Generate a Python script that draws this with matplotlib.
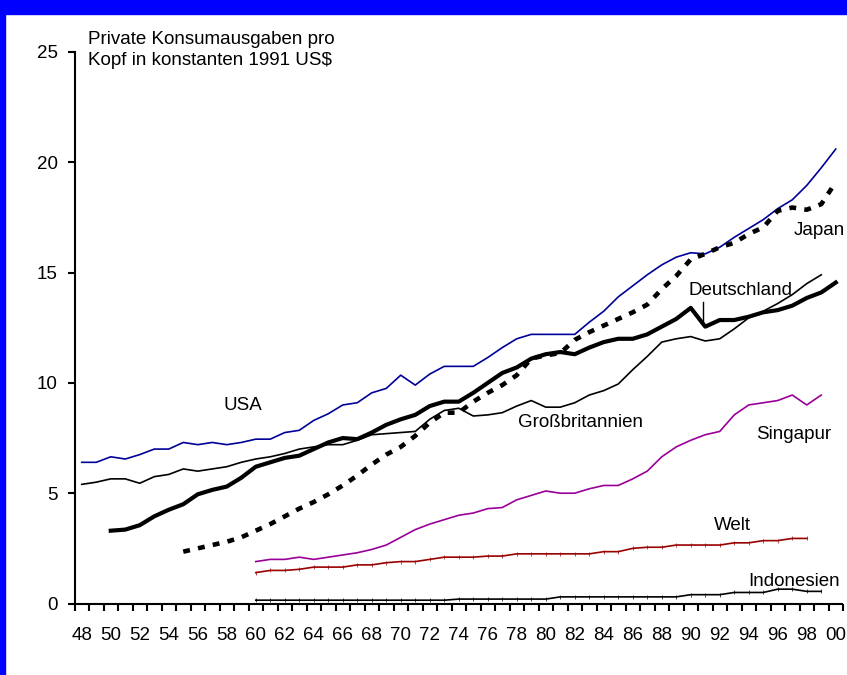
import matplotlib
matplotlib.use("Agg")
import matplotlib.pyplot as plt
from matplotlib.patches import Rectangle
from matplotlib.ticker import FixedLocator, NullFormatter

plt.rcParams['font.family'] = ['Liberation Sans', 'DejaVu Sans']

# Private consumption per capita, constant 1991 US$ (thousands)
years_usa = list(range(1948, 2001))
usa = [6.4, 6.4, 6.65, 6.55, 6.75, 7.0, 7.0, 7.3, 7.2, 7.3, 7.2, 7.3, 7.45, 7.45,
       7.75, 7.85, 8.3, 8.6, 9.0, 9.1, 9.55, 9.75, 10.35, 9.9, 10.4, 10.75, 10.75,
       10.75, 11.15, 11.6, 12.0, 12.2, 12.2, 12.2, 12.2, 12.75, 13.25, 13.9, 14.4,
       14.9, 15.35, 15.7, 15.9, 15.85, 16.15, 16.6, 17.0, 17.4, 17.9, 18.3, 18.95,
       19.75, 20.6]

years_gb = list(range(1948, 2000))
gb = [5.4, 5.5, 5.65, 5.65, 5.45, 5.75, 5.85, 6.1, 6.0, 6.1, 6.2, 6.4, 6.55, 6.65,
      6.8, 7.0, 7.1, 7.2, 7.2, 7.4, 7.65, 7.7, 7.75, 7.8, 8.35, 8.75, 8.85, 8.5,
      8.55, 8.65, 8.95, 9.2, 8.9, 8.9, 9.1, 9.45, 9.65, 9.95, 10.6, 11.2, 11.85,
      12.0, 12.1, 11.9, 12.0, 12.45, 12.95, 13.25, 13.6, 14.0, 14.5, 14.9]

years_de = list(range(1950, 2001))
de = [3.3, 3.35, 3.55, 3.95, 4.25, 4.5, 4.95, 5.15, 5.3, 5.7, 6.2, 6.4, 6.6, 6.7,
      7.0, 7.3, 7.5, 7.45, 7.75, 8.1, 8.35, 8.55, 8.95, 9.15, 9.15, 9.55, 10.0,
      10.45, 10.7, 11.1, 11.3, 11.4, 11.3, 11.6, 11.85, 12.0, 12.0, 12.2, 12.55,
      12.9, 13.4, 12.55, 12.85, 12.85, 13.0, 13.2, 13.3, 13.5, 13.85, 14.1, 14.55]

years_jp = list(range(1955, 2001))
jp = [2.35, 2.5, 2.65, 2.8, 3.0, 3.3, 3.6, 3.95, 4.3, 4.6, 4.95, 5.35, 5.8, 6.3,
      6.75, 7.1, 7.6, 8.2, 8.65, 8.65, 9.15, 9.55, 9.9, 10.35, 11.1, 11.25, 11.35,
      11.95, 12.3, 12.6, 12.9, 13.2, 13.55, 14.25, 14.85, 15.6, 15.85, 16.15,
      16.35, 16.75, 17.05, 17.8, 17.95, 17.85, 18.1, 19.1]

years_sg = list(range(1960, 2000))
sg = [1.9, 2.0, 2.0, 2.1, 2.0, 2.1, 2.2, 2.3, 2.45, 2.65, 3.0, 3.35, 3.6, 3.8, 4.0,
      4.1, 4.3, 4.35, 4.7, 4.9, 5.1, 5.0, 5.0, 5.2, 5.35, 5.35, 5.65, 6.0, 6.65,
      7.1, 7.4, 7.65, 7.8, 8.55, 9.0, 9.1, 9.2, 9.45, 9.0, 9.45]

years_welt = list(range(1960, 1999))
welt = [1.4, 1.5, 1.5, 1.55, 1.65, 1.65, 1.65, 1.75, 1.75, 1.85, 1.9, 1.9, 2.0,
        2.1, 2.1, 2.1, 2.15, 2.15, 2.25, 2.25, 2.25, 2.25, 2.25, 2.25, 2.35, 2.35,
        2.5, 2.55, 2.55, 2.65, 2.65, 2.65, 2.65, 2.75, 2.75, 2.85, 2.85, 2.95, 2.95]

years_id = list(range(1960, 2000))
indo = [0.15] * 14 + [0.2] * 7 + [0.3] * 9 + [0.4] * 3 + [0.5] * 3 + [0.65] * 2 + [0.55] * 2

year_labels = [f"{y % 100:02d}" for y in range(1948, 2001, 2)]
y_ticks = [0, 5, 10, 15, 20, 25]

W, H = 847, 675
fig = plt.figure(figsize=(W / 100, H / 100), dpi=100)
fig.patch.set_facecolor('white')

# blue frame: band on top, thin strip on the left
fig.patches.append(Rectangle((0, 1 - 14 / H), 1, 14 / H, transform=fig.transFigure,
                             color='#0000FF', zorder=0))
fig.patches.append(Rectangle((0, 0), 5 / W, 1, transform=fig.transFigure,
                             color='#0000FF', zorder=0))

left, right, bottom, top = 74.5 / W, 843 / W, 1 - 603.5 / H, 1 - 52 / H
ax = fig.add_axes([left, bottom, right - left, top - bottom])
ax.set_facecolor('none')

ax.plot(years_usa, usa, color='#000099', lw=1.2, solid_joinstyle='round')
ax.plot(years_gb, gb, color='black', lw=1.2, solid_joinstyle='round')
ax.plot(years_de, de, color='black', lw=3.0, solid_joinstyle='round')
ax.plot(years_jp, jp, color='black', lw=3.3, linestyle=(0, (1.5, 1.8)))
ax.plot(years_sg, sg, color='#990099', lw=1.2)
ax.plot(years_welt, welt, color='#990000', lw=1.2, marker='|', ms=2.5, mew=0.5)
ax.plot(years_id, indo, color='black', lw=1.2, marker='|', ms=2.5, mew=0.5)

# leader line for the Deutschland label
ax.plot([1990.85, 1990.85], [12.8, 13.68], color='black', lw=1.0)

fs = 13.5
ax.text(1957.76, 8.77, "USA", fontsize=fs, va='baseline')
ax.text(1978.1, 8.01, "Großbritannien", fontsize=fs, va='baseline')
ax.text(1989.83, 13.98, "Deutschland", fontsize=fs, va='baseline')
ax.text(1997.07, 16.7, "Japan", fontsize=fs, va='baseline')
ax.text(1994.5, 7.44, "Singapur", fontsize=fs, va='baseline')
ax.text(1991.6, 3.33, "Welt", fontsize=fs, va='baseline')
ax.text(1993.97, 0.79, "Indonesien", fontsize=fs, va='baseline')

fig.text(88 / W, 1 - 43.5 / H, "Private Konsumausgaben pro", fontsize=fs, va='baseline')
fig.text(88 / W, 1 - 65 / H, "Kopf in konstanten 1991 US$", fontsize=fs, va='baseline')

ax.set_xlim(1947.5, 2000.5)
ax.set_ylim(0, 25)

ax.xaxis.set_major_locator(FixedLocator([y + 0.5 for y in range(1947, 2001)]))
ax.xaxis.set_major_formatter(NullFormatter())
ax.xaxis.set_minor_locator(FixedLocator(list(range(1948, 2001, 2))))
ax.set_xticklabels(year_labels, minor=True)
ax.tick_params(axis='x', which='major', direction='out', length=5, width=1.5)
ax.tick_params(axis='x', which='minor', length=0, pad=17, labelsize=fs)

ax.set_yticks(y_ticks)
ax.set_yticklabels([str(v) for v in y_ticks])
ax.tick_params(axis='y', direction='out', length=5, width=1.5, pad=7, labelsize=fs)

for s in ['top', 'right']:
    ax.spines[s].set_visible(False)
for s in ['left', 'bottom']:
    ax.spines[s].set_linewidth(1.5)
ax.spines['bottom'].set_capstyle('butt')

fig.savefig("out.png", dpi=100)
